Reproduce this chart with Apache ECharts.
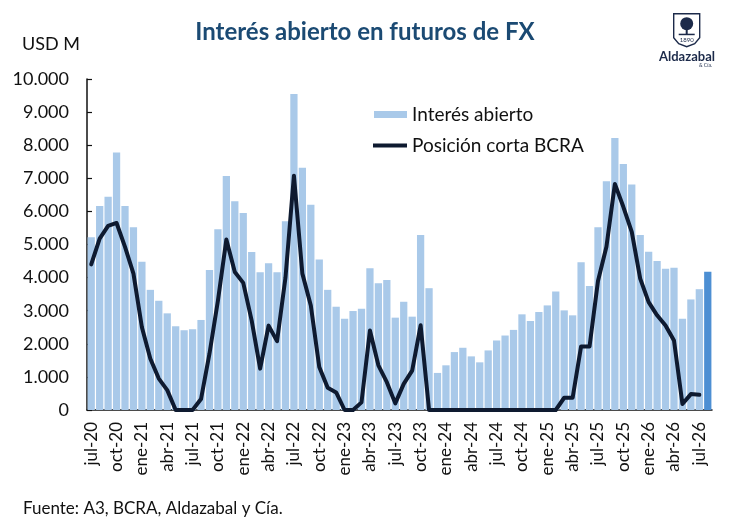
<!DOCTYPE html>
<html>
<head>
<meta charset="utf-8">
<title>Interés abierto en futuros de FX</title>
<script src="https://cdn.jsdelivr.net/npm/echarts@6/dist/echarts.min.js"></script>
<style>
    html,body{margin:0;padding:0;background:#fff;}
    #main{width:730px;height:523px;}
</style>
</head>
<body>
<div id="main"></div>
<script>
// meses jul-20 .. ago-26
let meses = ['ene','feb','mar','abr','may','jun','jul','ago','sep','oct','nov','dic'];
let label = [];
for (let i = 0; i < 74; i++) {
    let m = (6 + i) % 12;
    let y = 20 + Math.floor((6 + i) / 12);
    label.push(meses[m] + '-' + y);
}

// Interés abierto, USD M
let interes = [
    5220, 6160, 6440, 7780, 6160, 5520, 4480, 3630, 3300, 2920,
    2530, 2410, 2440, 2720, 4230, 5460, 7070, 6310, 5950, 4770,
    4160, 4430, 4160, 5700, 9550, 7320, 6200, 4550, 3630, 3120,
    2760, 2990, 3060, 4280, 3830, 3930, 2790, 3270, 2820, 5290,
    3680, 1120, 1350, 1750, 1880, 1620, 1440, 1800, 2100, 2250,
    2420, 2890, 2690, 2960, 3160, 3580, 3010, 2860, 4460, 3750,
    5520, 6910, 8220, 7430, 6810, 5290, 4780, 4500, 4270, 4300,
    2760, 3340, 3650, 4180
];

// Posición corta BCRA, USD M
let posicion = [
    4400, 5180, 5560, 5650, 4930, 4120, 2500, 1550, 950, 600,
    0, 0, 0, 330, 1700, 3300, 5150, 4170, 3840, 2700,
    1250, 2550, 2080, 4000, 7080, 4120, 3160, 1300, 670, 530,
    0, 0, 230, 2400, 1350, 840, 200, 790, 1190, 2560,
    0, 0, 0, 0, 0, 0, 0, 0, 0, 0,
    0, 0, 0, 0, 0, 0, 370, 370, 1920, 1920,
    3900, 4930, 6830, 6140, 5380, 3970, 3260, 2860, 2550, 2100,
    180, 480, 460, null
];

// ultimo dato resaltado
let barras = interes.map(function (v, i) {
    if (i === interes.length - 1) {
        return {value: v, itemStyle: {color: '#4d8fd3'}};
    }
    return v;
});

function miles(v) {
    return String(v).replace(/\B(?=(\d{3})+(?!\d))/g, '.');
}

let fuente = 'Lato, "Open Sans", sans-serif';

let option = {
    backgroundColor: '#ffffff',
    animation: false,
    textStyle: {fontFamily: fuente},
    title: {
        text: 'Interés abierto en futuros de FX',
        left: 'center',
        top: 15,
        textStyle: {
            fontFamily: fuente,
            fontSize: 24,
            fontWeight: 'bold',
            color: '#1b4a73'
        }
    },
    legend: [{
        data: ['Interés abierto'],
        left: 374,
        top: 105,
        padding: 0,
        icon: 'rect',
        itemWidth: 33,
        itemHeight: 7,
        textStyle: {fontFamily: fuente, fontSize: 19, color: '#111'}
    }, {
        data: ['Posición corta BCRA'],
        left: 373,
        top: 136,
        padding: 0,
        icon: 'rect',
        itemWidth: 34,
        itemHeight: 4,
        textStyle: {fontFamily: fuente, fontSize: 19, color: '#111'}
    }],
    grid: {
        left: 87,
        right: 18,
        top: 79,
        bottom: 113,
        containLabel: false
    },
    xAxis: [{
        type: 'category',
        data: label,
        boundaryGap: true,
        axisLine: {lineStyle: {color: '#111', width: 1.5}},
        axisTick: {
            interval: 2,
            inside: true,
            length: 5,
            lineStyle: {color: '#111', width: 1.2}
        },
        axisLabel: {
            interval: 2,
            rotate: 90,
            margin: 12,
            fontSize: 17,
            fontFamily: fuente,
            color: '#111'
        }
    }],
    yAxis: [{
        type: 'value',
        min: 0,
        max: 10000,
        interval: 1000,
        name: 'USD M',
        nameLocation: 'end',
        nameGap: 26,
        nameTextStyle: {
            fontFamily: fuente,
            fontSize: 18,
            color: '#111',
            align: 'right',
            padding: [0, 7, 0, 0]
        },
        splitLine: {show: false},
        axisLine: {show: true, lineStyle: {color: '#111', width: 1.5}},
        axisTick: {
            show: true,
            inside: true,
            length: 5,
            lineStyle: {color: '#111', width: 1.2}
        },
        axisLabel: {
            margin: 18,
            fontSize: 18,
            fontFamily: fuente,
            color: '#111',
            formatter: miles
        }
    }],
    series: [{
        name: 'Interés abierto',
        type: 'bar',
        barWidth: '86%',
        itemStyle: {color: '#a9c9e9'},
        data: barras
    }, {
        name: 'Posición corta BCRA',
        type: 'line',
        smooth: false,
        showSymbol: false,
        symbol: 'none',
        z: 5,
        itemStyle: {color: '#0e1a30'},
        lineStyle: {width: 4, color: '#0e1a30', join: 'round', cap: 'round'},
        data: posicion
    }],
    graphic: [{
        // fuente
        type: 'text',
        left: 23,
        top: 500,
        style: {
            text: 'Fuente: A3, BCRA, Aldazabal y Cía.',
            font: '17px ' + fuente,
            fill: '#111'
        }
    }, {
        // logo
        type: 'group',
        left: 673,
        top: 13,
        children: [{
            type: 'polygon',
            shape: {
                points: [[0, 0], [26, 0], [26, 24], [21, 30], [13, 33], [5, 30], [0, 24]]
            },
            style: {fill: '#fff', stroke: '#1c2a4a', lineWidth: 1.4}
        }, {
            type: 'circle',
            shape: {cx: 13, cy: 10, r: 6.5},
            style: {fill: '#1c2a4a'}
        }, {
            type: 'rect',
            shape: {x: 12, y: 14, width: 2, height: 7},
            style: {fill: '#1c2a4a'}
        }, {
            type: 'rect',
            shape: {x: 5, y: 20, width: 16, height: 1.5},
            style: {fill: '#1c2a4a'}
        }, {
            type: 'text',
            x: 13,
            y: 26,
            style: {
                text: '1890',
                font: '6px ' + fuente,
                fill: '#1c2a4a',
                align: 'center',
                verticalAlign: 'middle'
            }
        }]
    }, {
        type: 'text',
        left: 659,
        top: 50,
        style: {
            text: 'Aldazabal',
            font: 'bold 13px ' + fuente,
            fill: '#1c2a4a'
        }
    }, {
        type: 'text',
        left: 699,
        top: 63,
        style: {
            text: '& Cía.',
            font: '5px ' + fuente,
            fill: '#1c2a4a'
        }
    }]
};

let myChartB = document.getElementById('main');
let myChart = echarts.init(myChartB);
myChart.setOption(option, true);
</script>
</body>
</html>
